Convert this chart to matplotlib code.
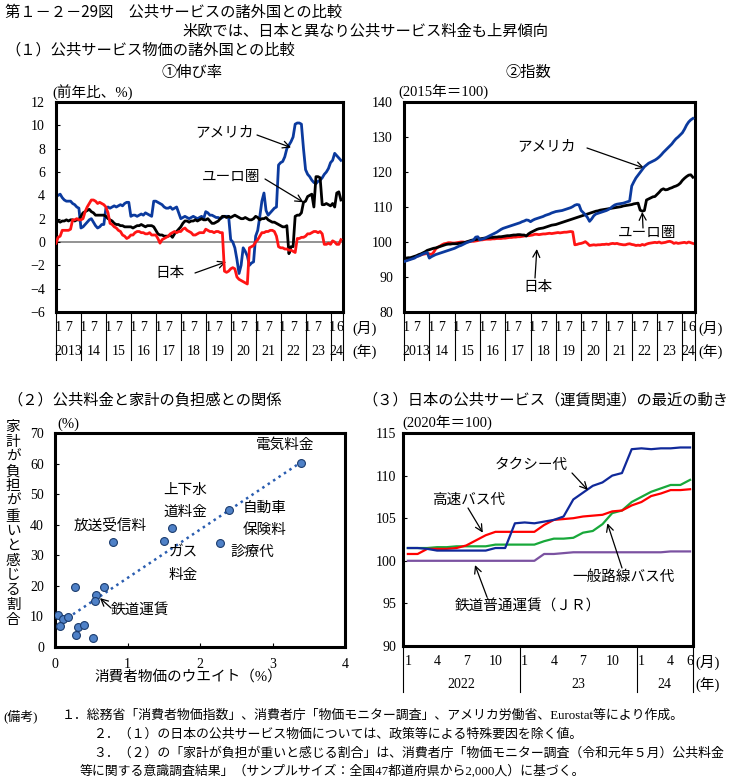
import numpy as np
import matplotlib.pyplot as plt

SERIF = ['Liberation Serif', 'Noto Sans CJK JP']
GOTH = ['Noto Sans CJK JP', 'DejaVu Sans']
plt.rcParams['font.family'] = SERIF
plt.rcParams['axes.linewidth'] = 2.2

## (1) 公共サービス物価 : 2013年1月～2024年6月, 月次
years = ['2013', '14', '15', '16', '17', '18', '19', '20', '21', '22', '23', '24']

# ①伸び率（前年比、%）
us_rate = [3.9, 4.0, 4.1, 3.8, 3.6, 3.5, 3.5, 3.5, 3.3, 3.2, 3.0, 2.9,
           1.2, 1.3, 1.5, 1.7, 1.9, 2.0, 1.7, 1.4, 1.2, 1.3, 1.5, 1.5,
           2.9, 3.0, 2.9, 3.0, 3.1, 3.0, 3.1, 3.2, 3.1, 3.3, 3.4, 3.4,
           2.2, 2.3, 2.3, 2.2, 2.3, 2.4, 2.3, 2.5, 2.4, 2.3, 2.2, 3.5,
           3.5, 3.4, 3.3, 3.2, 3.0, 2.9, 2.9, 3.0, 2.8, 2.9, 3.0, 2.5,
           2.0, 2.1, 2.2, 2.1, 2.0, 2.1, 2.2, 2.1, 2.0, 2.1, 2.2, 2.0,
           2.6, 2.5, 2.3, 2.3, 2.2, 2.1, 2.1, 2.0, 2.1, 2.2, 2.2, 2.2,
           0.2, 0.0, -0.5, -1.5, -2.7, -2.0, -0.5, -0.8, -1.2, -2.0, -1.8, -1.7,
           0.5, 1.0, 2.2, 3.5, 4.2, 2.7, 2.3, 2.5, 2.7, 2.9, 3.0, 6.6,
           6.8, 6.9, 7.3, 8.0, 8.3, 8.6, 9.0, 10.1, 10.2, 10.2, 10.1, 8.0,
           6.2, 5.8, 5.6, 5.3, 5.1, 5.0, 5.2, 5.3, 5.5, 5.8, 6.0, 6.3,
           6.8, 7.0, 7.6, 7.4, 7.2, 7.0]
eu_rate = [2.0, 1.8, 1.7, 1.8, 1.8, 1.9, 1.8, 1.9, 1.9, 1.8, 1.9, 1.9,
           2.2, 2.5, 2.6, 2.7, 2.8, 2.6, 2.5, 2.3, 2.3, 2.3, 2.3, 2.3,
           2.2, 2.0, 1.9, 1.8, 1.6, 1.5, 1.5, 1.4, 1.4, 1.3, 1.3, 1.3,
           1.3, 1.2, 1.3, 1.4, 1.4, 1.5, 1.4, 1.3, 1.4, 1.4, 1.4, 1.3,
           1.0, 0.7, 0.6, 0.6, 0.5, 0.5, 0.5, 0.6, 0.4, 0.7, 0.9, 1.1,
           1.3, 1.6, 1.8, 1.8, 1.7, 1.8, 1.8, 1.9, 1.8, 1.9, 2.0, 1.9,
           1.9, 2.0, 1.8, 1.6, 1.6, 1.7, 1.8, 2.0, 2.2, 2.2, 2.1, 2.2,
           2.1, 2.2, 2.3, 2.2, 2.1, 2.0, 2.0, 2.1, 2.0, 1.9, 1.9, 2.0,
           2.2, 2.1, 1.9, 2.0, 2.0, 2.1, 1.9, 1.8, 1.7, 1.7, 1.6, 1.5,
           1.4, 1.3, 1.3, 1.4, -1.0, -0.4, -0.4, 2.2, 2.3, 2.3, 2.5, 3.4,
           3.5, 3.9, 4.0, 4.1, 3.0, 5.6, 5.6, 5.5, 3.2, 3.2, 3.3, 3.2,
           3.1, 3.3, 3.0, 4.2, 4.3, 3.6]
jp_rate = [-0.1, 0.4, 0.5, 1.0, 1.0, 1.0, 1.0, 1.1, 1.9, 1.9, 2.0, 1.9,
           1.9, 2.0, 2.6, 3.0, 3.3, 3.6, 3.6, 3.5, 3.3, 3.4, 3.3, 3.2,
           3.0, 2.5, 1.6, 1.5, 1.3, 1.2, 1.0, 0.9, 0.6, 0.5, 0.3, 0.4,
           0.6, 0.6, 0.8, 0.9, 0.9, 0.8, 0.8, 0.7, 0.7, 0.8, 0.6, 0.6,
           0.6, 0.3, -0.1, 0.2, 0.3, 0.4, 0.5, 0.7, 0.8, 0.9, 0.8, 0.9,
           0.9, 1.1, 1.2, 1.0, 0.9, 0.8, 0.6, 0.6, 0.7, 0.8, 0.8, 0.8,
           1.1, 1.0, 0.9, 0.9, 0.8, 0.9, 0.9, 0.8, 0.8, -2.5, -2.6, -2.5,
           -2.3, -2.2, -2.3, -3.0, -3.2, -3.3, -3.4, -3.5, -3.6, -0.5, -0.4, -0.3,
           0.0, 0.2, 0.5, 0.8, 0.8, 0.9, 0.9, 1.0, 1.0, 0.9, 0.5, -0.4,
           -0.5, -0.5, -0.6, -0.6, -0.7, -0.7, -0.8, -0.9, 0.3, 0.3, 0.4, 0.4,
           0.5, 0.7, 0.7, 0.8, 0.9, 0.9, 0.8, 0.9, 0.7, -0.2, -0.2, -0.1,
           -0.2, 0.1, 0.0, -0.2, -0.2, 0.2]

# ②指数（2015年＝100）
us_idx = [94.4, 94.6, 94.8, 95.0, 95.2, 95.4, 95.8, 96.0, 96.3, 96.6, 96.8, 97.0,
          95.4, 95.8, 96.1, 96.4, 96.6, 96.8, 97.0, 97.2, 97.4, 97.6, 97.8, 98.0,
          98.2, 98.5, 98.8, 99.0, 99.3, 99.6, 99.9, 100.1, 100.3, 100.6, 101.4, 101.5,
          100.6, 100.8, 101.0, 101.3, 101.6, 101.9, 102.2, 102.5, 102.8, 103.2, 103.6, 103.9,
          104.1, 104.3, 104.5, 104.7, 104.9, 105.1, 105.3, 105.5, 105.8, 106.0, 106.3, 106.2,
          105.8, 106.2, 106.5, 106.7, 106.9, 107.1, 107.3, 107.6, 107.8, 108.0, 108.3, 108.5,
          108.7, 108.8, 108.9, 109.0, 109.2, 109.4, 109.6, 109.8, 110.1, 110.5, 110.7, 110.6,
          109.0, 108.4, 107.8, 107.0, 105.9, 106.6, 107.5, 108.0, 108.2, 108.4, 108.6, 108.8,
          109.0, 109.3, 109.7, 110.2, 110.6, 110.8, 110.9, 111.0, 111.1, 111.3, 111.5, 111.7,
          116.0, 117.2, 118.3, 119.1, 119.9, 120.7, 121.5, 122.0, 122.5, 122.8, 123.1, 123.4,
          123.8, 124.3, 124.9, 125.6, 126.2, 126.8, 127.4, 128.0, 128.8, 129.5, 130.0, 130.6,
          131.2, 132.2, 133.4, 134.3, 134.9, 135.3]
eu_idx = [95.3, 95.4, 95.5, 95.5, 95.7, 95.9, 96.1, 96.4, 96.6, 96.9, 97.2, 97.6,
          97.8, 98.0, 98.2, 98.3, 98.5, 98.7, 98.9, 99.1, 99.3, 99.4, 99.4, 99.5,
          99.5, 99.5, 99.6, 99.7, 99.8, 99.9, 100.1, 100.3, 100.5, 100.6, 100.7, 100.8,
          100.9, 101.0, 101.1, 101.1, 101.2, 101.3, 101.3, 101.4, 101.4, 101.5, 101.5, 101.6,
          101.7, 101.8, 101.8, 101.9, 102.0, 102.0, 102.1, 102.1, 102.0, 102.0, 101.7, 102.3,
          102.7, 103.0, 103.3, 103.6, 103.8, 103.9, 104.0, 104.2, 104.4, 104.6, 104.8, 104.9,
          105.0, 105.2, 105.4, 105.6, 105.8, 106.0, 106.2, 106.4, 106.6, 106.8, 107.0, 107.2,
          107.4, 107.6, 107.8, 108.0, 108.2, 108.4, 108.6, 108.8, 108.9, 109.1, 109.2, 109.3,
          109.4, 109.5, 109.6, 109.7, 109.8, 109.9, 110.0, 110.1, 110.3, 110.4, 110.5, 110.6,
          110.7, 110.9, 111.0, 111.1, 109.1, 108.8, 109.0, 112.0, 112.3, 112.6, 112.9, 113.0,
          113.6, 114.2, 114.9, 115.2, 114.9, 115.0, 115.3, 115.5, 115.8, 116.0, 116.3, 116.8,
          117.6, 118.2, 118.7, 119.1, 119.2, 118.5]
jp_idx = [94.5, 94.7, 95.0, 95.2, 95.4, 95.6, 95.9, 96.1, 96.3, 96.5, 96.6, 96.8,
          96.6, 96.4, 97.0, 98.0, 98.5, 98.8, 99.2, 99.5, 99.6, 99.8, 99.8, 99.7,
          99.7, 99.8, 99.9, 100.0, 100.0, 99.9, 100.0, 100.1, 100.2, 100.2, 100.3, 100.4,
          100.6, 100.6, 100.7, 100.8, 100.8, 100.8, 100.9, 100.9, 101.0, 101.0, 101.0, 101.1,
          101.1, 101.2, 101.3, 101.3, 101.4, 101.4, 101.5, 101.5, 101.6, 101.7, 101.8, 101.8,
          101.9, 102.0, 102.2, 102.2, 102.1, 102.2, 102.3, 102.3, 102.4, 102.5, 102.4, 102.5,
          102.6, 102.7, 102.6, 102.7, 102.8, 102.8, 102.9, 103.0, 102.9, 99.2, 99.3, 99.5,
          99.6, 99.8, 100.1, 99.6, 99.0, 99.1, 99.2, 99.1, 99.2, 99.2, 99.3, 99.3,
          99.4, 99.3, 99.5, 99.6, 99.5, 99.6, 99.4, 99.3, 99.2, 99.2, 99.4, 99.5,
          99.3, 99.2, 99.0, 99.1, 99.0, 99.3, 99.1, 99.4, 99.6, 99.7, 99.8, 99.9,
          99.8, 100.0, 99.7, 99.8, 99.9, 100.1, 100.2, 100.0, 99.6, 99.8, 99.6, 99.7,
          99.8, 99.9, 99.7, 100.0, 99.8, 99.6]

## (2) 公共料金と家計の負担感
weight = [3.39, 2.40, 2.28, 1.62, 1.50, 0.80, 0.68, 0.28, 0.57, 0.55,
          0.04, 0.11, 0.18, 0.07, 0.32, 0.40, 0.29, 0.53]
burden = [60.3, 44.7, 34.1, 38.8, 34.7, 34.3, 19.5, 19.5, 16.9, 14.9,
          10.6, 9.2, 9.8, 6.9, 6.5, 7.3, 3.8, 3.1]

## (3) 運賃関連（2020年＝100）: 2022年1月～2024年6月
m3_labels = ['1', '4', '7', '10', '1', '4', '7', '10', '1', '4', '6']
m3_pos = [0, 3, 6, 9, 12, 15, 18, 21, 24, 27, 29]
y3_labels = ['2022', '23', '24']
taxi = [101.5, 101.5, 101.4, 101.2, 101.2, 101.2, 101.2, 101.2, 101.2, 101.5,
        101.5, 104.4, 104.5, 104.4, 104.6, 104.8, 105.2, 107.2, 108.0, 108.8,
        109.2, 110.0, 110.3, 113.1, 113.2, 113.1, 113.2, 113.2, 113.3, 113.3]
hwbus = [100.8, 100.8, 101.4, 101.4, 101.4, 101.5, 101.8, 102.4, 103.0, 103.4,
         103.4, 103.4, 103.4, 103.4, 104.2, 104.8, 104.9, 105.0, 105.2, 105.3,
         105.4, 105.8, 105.9, 106.5, 106.9, 107.6, 107.9, 108.3, 108.3, 108.4]
locbus = [101.5, 101.5, 101.5, 101.6, 101.6, 101.7, 101.7, 101.7, 101.7, 101.9,
          101.9, 101.9, 101.9, 101.9, 102.3, 102.6, 102.6, 102.7, 103.3, 103.5,
          104.3, 105.6, 105.9, 106.9, 107.5, 108.1, 108.5, 108.9, 108.9, 109.5]
jr = [100.0, 100.0, 100.0, 100.0, 100.0, 100.0, 100.0, 100.0, 100.0, 100.0,
      100.0, 100.0, 100.0, 100.0, 100.8, 100.8, 100.9, 101.0, 101.0, 101.0,
      101.0, 101.0, 101.0, 101.0, 101.0, 101.0, 101.0, 101.1, 101.1, 101.1]

BLUE = '#0b3a9e'
RED = '#ff1414'

W, H = 748, 777
fig = plt.figure(figsize=(W / 100, H / 100), dpi=100)


def add_ax(l, t, r, b):
    return fig.add_axes([l / W, 1 - b / H, (r - l) / W, (b - t) / H])


def fpos(x, y):
    return (x / W, 1 - y / H)


def ftext(x, y, s, **kw):
    kw.setdefault('va', 'center')
    kw.setdefault('fontsize', 10.5)
    return fig.text(x / W, 1 - y / H, s, **kw)


def arrow(ax, xy, tail):
    ax.annotate('', xy=xy, xytext=fpos(*tail), textcoords='figure fraction',
                arrowprops=dict(arrowstyle='->,head_length=0.5,head_width=0.25',
                                lw=0.9, color='black', shrinkA=0, shrinkB=0),
                annotation_clip=False)


def frame(ax, pad=8):
    ax.set_xticks([])
    ax.tick_params(axis='y', direction='in', length=3, width=0.8, pad=pad, labelsize=10)


def time_axis(ax):
    tr = ax.get_xaxis_transform()
    n = len(us_rate)
    for k, yl in enumerate(years):
        x0 = 12 * k
        ax.plot([x0, x0], [0, -0.23], transform=tr, color='black', lw=0.8, clip_on=False)
        ax.text(x0 + 1, -0.076, '1', transform=tr, ha='center', va='center', fontsize=10)
        if x0 + 12 <= n:
            ax.text(x0 + 6, -0.076, '7', transform=tr, ha='center', va='center', fontsize=10)
            ax.text(x0 + 6, -0.19, yl, transform=tr, ha='center', va='center', fontsize=10)
        else:
            ax.text(n - 1.3, -0.076, str(n - x0), transform=tr, ha='center', va='center', fontsize=10)
            ax.text(x0 + (n - x0) / 2, -0.19, yl, transform=tr, ha='center', va='center', fontsize=10)
    ax.plot([n, n], [0, -0.23], transform=tr, color='black', lw=0.8, clip_on=False)


m = np.arange(len(us_rate))

# ---------------- titles
ftext(5, 12, '第１－２－29図　公共サービスの諸外国との比較', family=GOTH, fontsize=11)
ftext(365, 31, '米欧では、日本と異なり公共サービス料金も上昇傾向', family=GOTH, fontsize=11, ha='center')
ftext(5, 50, '（１）公共サービス物価の諸外国との比較', family=GOTH, fontsize=11)
ftext(192, 72, '①伸び率', family=GOTH, fontsize=11, ha='center')
ftext(528, 72, '②指数', family=GOTH, fontsize=11, ha='center')

# ---------------- ①伸び率
ax1 = add_ax(56, 102, 343, 312)
ax1.axhline(0, color='#808080', lw=1.2, zorder=1)
ax1.plot(m, us_rate, color=BLUE, lw=2, zorder=2)
ax1.plot(m, eu_rate, color='black', lw=2, zorder=3)
ax1.plot(m, jp_rate, color=RED, lw=2, zorder=4)
ax1.set_xlim(0, len(m))
ax1.set_ylim(-6, 12)
ax1.set_yticks(range(-6, 13, 2))
frame(ax1)
time_axis(ax1)
ftext(52, 92, '(前年比、%)', fontsize=10.5)
ftext(352, 328, '(月)', fontsize=10.5)
ftext(352, 352, '(年)', fontsize=10.5)
ftext(195, 133, 'アメリカ', fontsize=10.5)
arrow(ax1, (113, 8.1), (257, 135))
ftext(202, 177, 'ユーロ圏', fontsize=10.5)
arrow(ax1, (119, 3.4), (265, 179))
ftext(155, 273, '日本', fontsize=10.5)
arrow(ax1, (81.8, -1.7), (195, 273))

# ---------------- ②指数
ax2 = add_ax(404, 102, 695, 312)
ax2.plot(m, jp_idx, color=RED, lw=2, zorder=2)
ax2.plot(m, eu_idx, color='black', lw=2, zorder=3)
ax2.plot(m, us_idx, color=BLUE, lw=2, zorder=4)
ax2.set_xlim(0, len(m))
ax2.set_ylim(80, 140)
ax2.set_yticks(range(80, 141, 10))
frame(ax2)
time_axis(ax2)
ftext(398, 92, '(2015年＝100)', fontsize=10.5)
ftext(698, 328, '(月)', fontsize=10.5)
ftext(698, 352, '(年)', fontsize=10.5)
ftext(517, 147, 'アメリカ', fontsize=10.5)
arrow(ax2, (114, 121.1), (587, 148))
ftext(618, 234, 'ユーロ圏', fontsize=10.5)
arrow(ax2, (113, 108.6), (643, 228))
ftext(523, 288, '日本', fontsize=10.5)
arrow(ax2, (63, 98.0), (535, 278))

# ---------------- (2) 散布図
ftext(7, 400, '（２）公共料金と家計の負担感との関係', family=GOTH, fontsize=11)
ax3 = add_ax(55, 433, 345, 647)
coef = np.polyfit(weight, burden, 1)
xs = np.linspace(0.1, max(weight), 50)
ax3.plot(xs, np.polyval(coef, xs), color='#2a5db0', lw=1.8, ls=(0, (1, 1.6)), zorder=2)
ax3.scatter(weight, burden, s=32, color='#4f81c7', edgecolor='#1b3c6e', lw=0.8, zorder=3)
ax3.set_xlim(0, 4)
ax3.set_ylim(0, 70)
ax3.set_xticks(range(0, 5))
ax3.set_yticks(range(0, 71, 10))
ax3.tick_params(direction='in', length=3, width=0.8, pad=8, labelsize=10)
ftext(57, 424, '(%)', fontsize=10.5)
ftext(13, 421, '\n'.join('家計が負担が重いと感じる割合'), fontsize=10.5, va='top', ha='center',
      linespacing=1.17)
ftext(188, 677, '消費者物価のウエイト（%）', fontsize=10.5, ha='center')
ftext(285, 445, '電気料金', fontsize=10.5, ha='center')
ftext(185, 490, '上下水', fontsize=10.5, ha='center')
ftext(185, 512, '道料金', fontsize=10.5, ha='center')
ftext(265, 508, '自動車', fontsize=10.5, ha='center')
ftext(265, 530, '保険料', fontsize=10.5, ha='center')
ftext(110, 525, '放送受信料', fontsize=10.5, ha='center')
ftext(183, 553, 'ガス', fontsize=10.5, ha='center')
ftext(183, 575, '料金', fontsize=10.5, ha='center')
ftext(252, 552, '診療代', fontsize=10.5, ha='center')
ftext(140, 610, '鉄道運賃', fontsize=10.5, ha='center')
arrow(ax3, (0.62, 16.0), (111, 608))

# ---------------- (3) 運賃関連
ftext(362, 400, '（３）日本の公共サービス（運賃関連）の最近の動き', family=GOTH, fontsize=11)
ax4 = add_ax(403, 433, 693, 646)
i3 = np.arange(len(taxi))
ax4.plot(i3, jr, color='#7b52a1', lw=1.6)
ax4.plot(i3, locbus, color='#18a83a', lw=1.6)
ax4.plot(i3, hwbus, color='#ff0000', lw=1.6)
ax4.plot(i3, taxi, color='#10299a', lw=1.6)
ax4.set_xlim(-0.5, len(taxi) - 0.7)
ax4.set_ylim(90, 115)
ax4.set_yticks(range(90, 116, 5))
frame(ax4, pad=5)
tr4 = ax4.get_xaxis_transform()
for p, s in zip(m3_pos, m3_labels):
    ax4.text(p, -0.075, s, transform=tr4, ha='center', va='center', fontsize=10)
seps = [-0.5, 11.5, 23.5, len(taxi) - 0.7]
for x0 in seps:
    ax4.plot([x0, x0], [0, -0.216], transform=tr4, color='black', lw=0.8, clip_on=False)
for k, s in enumerate(y3_labels):
    ax4.text((seps[k] + seps[k + 1]) / 2, -0.183, s, transform=tr4, ha='center', va='center', fontsize=10)
ftext(402, 423, '(2020年＝100)', fontsize=10.5)
ftext(695, 662, '(月)', fontsize=10.5)
ftext(695, 685, '(年)', fontsize=10.5)
ftext(495, 465, 'タクシー代', fontsize=10.5)
arrow(ax4, (18.5, 108.3), (572, 473))
ftext(432, 500, '高速バス代', fontsize=10.5)
arrow(ax4, (7.7, 103.3), (468, 508))
ftext(572, 577, '一般路線バス代', fontsize=10.5)
arrow(ax4, (20.5, 104.4), (622, 568))
ftext(455, 607, '鉄道普通運賃（ＪＲ）', fontsize=10.5)
arrow(ax4, (6.9, 99.5), (487, 597))

# ---------------- 備考
fs = 9.3
ftext(3, 716, '(備考)', fontsize=fs)
ftext(62, 716, '１．総務省「消費者物価指数」、消費者庁「物価モニター調査」、アメリカ労働省、Eurostat等により作成。', fontsize=fs)
ftext(93, 735, '２．（１）の日本の公共サービス物価については、政策等による特殊要因を除く値。', fontsize=fs)
ftext(93, 753, '３．（２）の「家計が負担が重いと感じる割合」は、消費者庁「物価モニター調査（令和元年５月）公共料金', fontsize=fs)
ftext(80, 771, '等に関する意識調査結果」（サンプルサイズ：全国47都道府県から2,000人）に基づく。', fontsize=fs)

fig.savefig('out.png', dpi=100)
